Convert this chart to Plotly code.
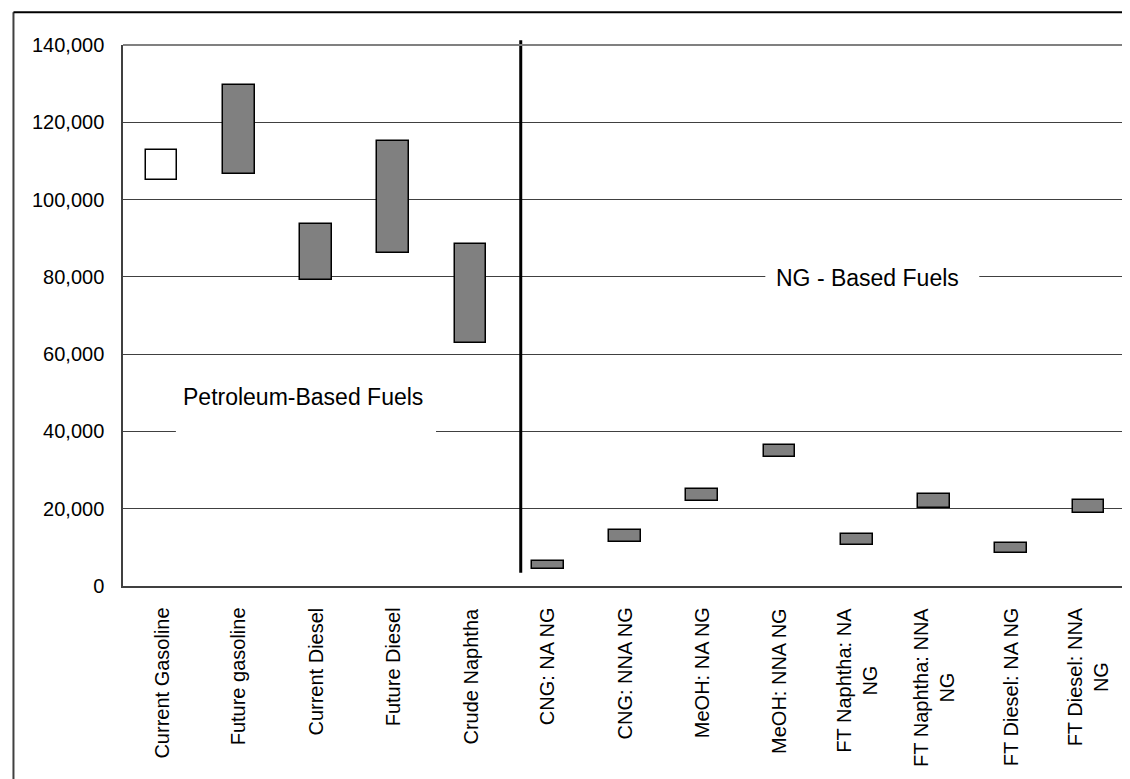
import plotly.graph_objects as go

categories = [
    "Current Gasoline", "Future gasoline", "Current Diesel", "Future Diesel",
    "Crude Naphtha", "CNG: NA NG", "CNG: NNA NG", "MeOH: NA NG",
    "MeOH: NNA NG", "FT Naphtha: NA<br>NG", "FT Naphtha: NNA<br>NG",
    "FT Diesel: NA NG", "FT Diesel: NNA<br>NG",
]
low_values = [105000, 106700, 79200, 86100, 62900, 4400, 11300, 22100,
              33300, 10500, 20200, 8500, 18900]
high_values = [112800, 129600, 93700, 115200, 88600, 6500, 14500, 25100,
               36400, 13500, 23800, 11100, 22300]
bar_fills = ["white"] + ["#808080"] * 12
y_ticks = [0, 20000, 40000, 60000, 80000, 100000, 120000, 140000]

FONT = "Liberation Sans, Arial, sans-serif"
idx = list(range(len(categories)))

fig = go.Figure()
fig.add_trace(go.Bar(
    x=idx,
    y=[h - l for h, l in zip(high_values, low_values)],
    base=low_values,
    width=0.41,
    marker=dict(color=bar_fills, line=dict(color="black", width=1.5)),
    hoverinfo="skip",
    showlegend=False,
))

shapes = [
    # white boxes behind the group labels (hide gridline segments)
    dict(type="rect", xref="x", yref="y", x0=0.185, x1=3.553, y0=36000, y1=44000,
         fillcolor="white", line=dict(width=0), layer="between"),
    dict(type="rect", xref="x", yref="y", x0=7.817, x1=10.587, y0=77500, y1=82500,
         fillcolor="white", line=dict(width=0), layer="between"),
    # group separator
    dict(type="line", xref="x", yref="paper", x0=4.65, x1=4.65, y0=0.0243, y1=1.009,
         line=dict(color="black", width=3)),
    # plot area top/right border
    dict(type="line", xref="paper", yref="paper", x0=0, x1=1, y0=1, y1=1,
         line=dict(color="#808080", width=2)),
    dict(type="line", xref="paper", yref="paper", x0=1, x1=1, y0=0, y1=1,
         line=dict(color="#808080", width=2)),
    # outer chart border (left and top visible)
    dict(type="line", xref="paper", yref="paper", x0=-0.1091, x1=-0.1091, y0=-0.5, y1=1.0605,
         line=dict(color="#404040", width=2)),
    dict(type="line", xref="paper", yref="paper", x0=-0.1091, x1=1.2, y0=1.0605, y1=1.0605,
         line=dict(color="black", width=2)),
]

annotations = [
    dict(text="Petroleum-Based Fuels", x=1.837, y=48860, xref="x", yref="y",
         showarrow=False, font=dict(family=FONT, size=23, color="black")),
    dict(text="NG - Based Fuels", x=9.145, y=79750, xref="x", yref="y",
         showarrow=False, font=dict(family=FONT, size=23, color="black")),
]
for i, c in enumerate(categories):
    annotations.append(dict(
        text=c, x=i, xref="x", y=-0.036, yref="paper", yanchor="top",
        xanchor="center", textangle=-90, showarrow=False, align="center",
        font=dict(family=FONT, size=20, color="black")))

fig.update_layout(
    width=1130, height=779,
    margin=dict(l=115, r=11, t=37, b=201),
    paper_bgcolor="white", plot_bgcolor="white",
    font=dict(family=FONT, color="black"),
    shapes=shapes, annotations=annotations,
    bargap=0,
    xaxis=dict(range=[-0.5, len(categories) - 0.5], showticklabels=False,
               showgrid=False, zeroline=False, showline=True,
               linecolor="#404040", linewidth=1.5, ticks=""),
    yaxis=dict(range=[0, 140000], tickvals=y_ticks, tickformat=",",
               showgrid=True, gridcolor="#404040", gridwidth=1,
               zeroline=False, showline=True, linecolor="#404040", linewidth=1.5,
               ticks="", ticklabelstandoff=13,
               tickfont=dict(family=FONT, size=20, color="black")),
)

fig.write_html("out.html")
